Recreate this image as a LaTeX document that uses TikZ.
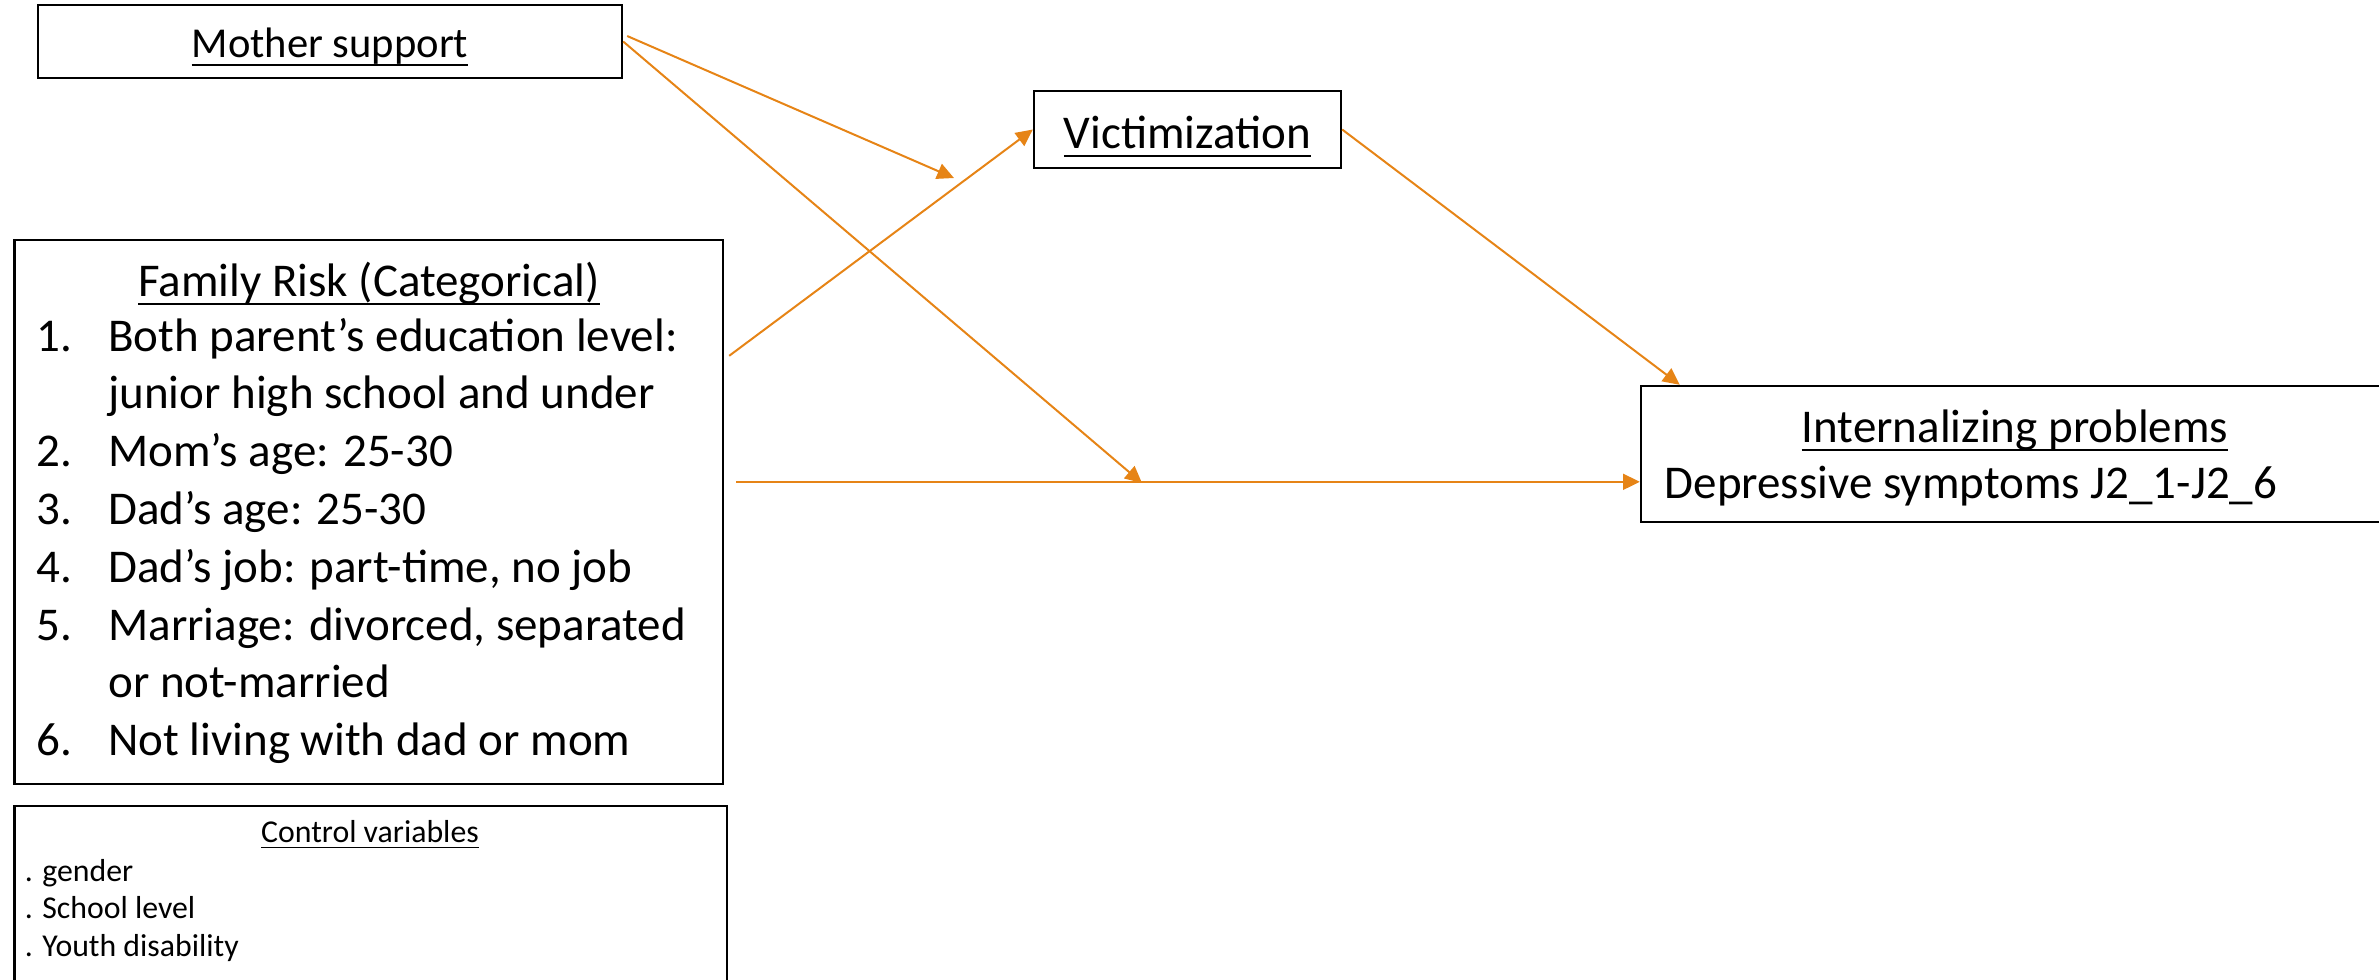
\documentclass[tikz,border=0pt]{standalone}
\usepackage{fontspec}
\setmainfont{Carlito}
\usetikzlibrary{arrows.meta,fit}
\definecolor{arrorange}{RGB}{230,132,22}
\newcommand{\undl}[1]{\setbox0\hbox{#1}\rlap{\rule[-0.2em]{\wd0}{0.045em}}\box0}
\tikzset{
  varbox/.style={draw=black, line width=0.6pt, inner sep=0pt},
  effect/.style={draw=arrorange, line width=0.5pt, -{Triangle[length=4.2pt,width=4pt]}},
  bigtext/.style={font=\fontsize{11.75pt}{14.45pt}\selectfont},
  midtext/.style={font=\fontsize{10.65pt}{13pt}\selectfont},
  smalltext/.style={font=\fontsize{7.95pt}{9.4pt}\selectfont},
}
\begin{document}
\begin{tikzpicture}[x=0.25pt,y=-0.25pt]
  \useasboundingbox (0,0) rectangle (2379,979);
  % boxes
  \node[varbox, fit={(38,5) (622,78)}] (mother) {};
  \node[varbox, fit={(1034,91) (1341,168)}] (victim) {};
  \node[varbox, fit={(14.5,240) (723,784)}] (famrisk) {};
  \node[varbox, fit={(14.5,806) (727,1000)}] (control) {};
  \node[varbox, fit={(1641,386) (2420,522)}] (intern) {};
  % texts
  \node[midtext, anchor=base] (mothertxt) at (330,57) {\undl{Mother support}};
  \node[bigtext, anchor=base] (victimtxt) at (1187.5,148) {\undl{Victimization}};
  \node[bigtext, anchor=base] (famtitle) at (369,296) {\undl{Family Risk (Categorical)}};
  \node[bigtext, anchor=base west, inner sep=0pt] (famlist) at (36,351) {%
    \begin{tabular}[t]{@{}p{17.9pt}@{}l@{}}
      1. & Both parent’s education level:\\
         & junior high school and under\\
      2. & Mom’s age: 25-30\\
      3. & Dad’s age: 25-30\\
      4. & Dad’s job: part-time, no job\\
      5. & Marriage: divorced, separated\\
         & or not-married\\
      6. & Not living with dad or mom
    \end{tabular}};
  \node[bigtext, anchor=base] (interntxt) at (2015,442) {\undl{Internalizing problems}};
  \node[bigtext, anchor=base west, inner sep=0pt] (deprtxt) at (1664,498) {Depressive symptoms J2\_1-J2\_6};
  \node[smalltext, anchor=base] (ctrltxt) at (370,842) {\undl{Control variables}};
  \node[smalltext, anchor=base west, inner sep=0pt] (ctrllist) at (24,881) {%
    \begin{tabular}[t]{@{}l@{}}
      . gender\\
      . School level\\
      . Youth disability
    \end{tabular}};
  % paths
  \coordinate (mvend) at (954,178);
  \coordinate (mdend) at (1142,483);
  \coordinate (frstart) at ([shift={(12,243)}]famrisk.north east);
  \draw[effect] ([shift={(4,-5.5)}]mother.east) -- (mvend);
  \draw[effect] (mother.east) -- (mdend);
  \draw[effect] ([shift={(5,117)}]famrisk.north east) -- (victim.west);
  \draw[effect] (frstart) -- (frstart -| intern.west);
  \draw[effect] (victim.east) -- ([shift={(40,0)}]intern.north west);
\end{tikzpicture}
\end{document}
